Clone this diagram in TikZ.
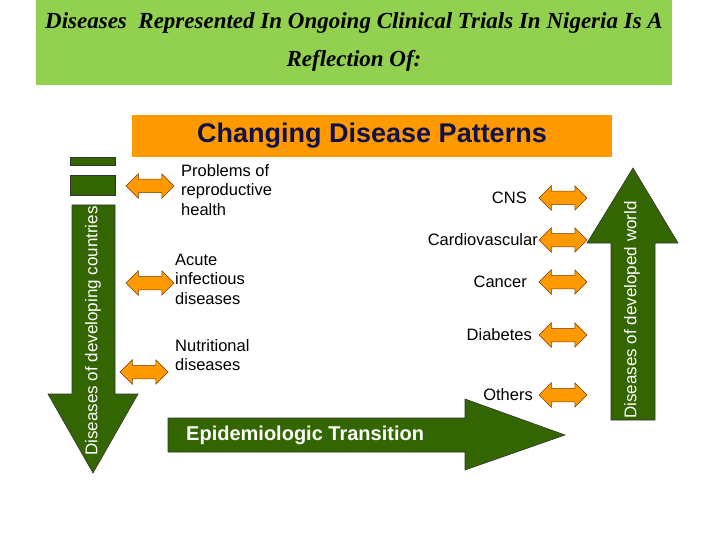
\documentclass[tikz,border=0pt]{standalone}
\usepackage{fontspec}
\setmainfont{Liberation Sans}
\newfontfamily\headfont{Liberation Serif}
\usetikzlibrary{shapes.arrows}

\definecolor{titlegreen}{HTML}{92D050}
\definecolor{bannerorange}{HTML}{FF9900}
\definecolor{arrowgreen}{HTML}{336600}
\definecolor{bannerblue}{HTML}{10104A}
\definecolor{edgebrown}{HTML}{7A3A00}

\tikzset{
  greenshape/.style={fill=arrowgreen, draw=black!80, line width=0.6pt},
  dblarrow/.style={double arrow, fill=bannerorange, draw=edgebrown, line width=0.5pt,
    inner xsep=0pt, inner ysep=6.5pt, minimum width=0pt, minimum height=48pt,
    double arrow head extend=5.5pt},
  disease/.style={font=\fontsize{16.5}{19.5}\selectfont, align=left, inner sep=0pt},
  sidetext/.style={font=\fontsize{17}{20}\selectfont, text=white, rotate=90, inner sep=0pt}
}

\begin{document}
\begin{tikzpicture}[x=1pt,y=-1pt]
\useasboundingbox (0,0) rectangle (720,540);
% title box
\fill [titlegreen] (36,0) rectangle (672,85);
\node (title) at (354,42) [align=center, font=\headfont\bfseries\itshape\fontsize{23}{38}\selectfont]
  {Diseases \ Represented In Ongoing Clinical Trials In Nigeria Is A\\Reflection Of:};
% banner
\fill [bannerorange] (132,115) rectangle (612,157);
\node (banner) at (372,136) [text=bannerblue, font=\bfseries\fontsize{27}{30}\selectfont] {Changing Disease Patterns};
% left arrow, pointing down
\draw [greenshape] (70,157) rectangle (115,165);
\draw [greenshape] (70,175) rectangle (115,195);
\draw [greenshape] (72,205) -- (115,205) -- (115,394) -- (138,394) -- (93,473)
  -- (48,394) -- (72,394) -- cycle;
\node (devtext) at (93,331) [sidetext] {Diseases of developing countries};
% right arrow, pointing up
\draw [greenshape] (611,420) -- (655,420) -- (655,243) -- (678,243) -- (633,168)
  -- (587,243) -- (611,243) -- cycle;
\node (worldtext) at (632,310) [sidetext] {Diseases of developed world};
% bottom arrow
\draw [greenshape] (168,418) -- (465,418) -- (465,399) -- (565,435) -- (465,470)
  -- (465,452) -- (168,452) -- cycle;
\node (transtext) at (186,435) [anchor=west, text=white, inner sep=0pt,
  font=\bfseries\fontsize{20}{22}\selectfont] {Epidemiologic Transition};
% double arrows, left
\node (la1) at (150,186) [dblarrow] {};
\node (la2) at (150,283) [dblarrow] {};
\node (la3) at (144,372) [dblarrow] {};
% double arrows, right
\node (ra1) at (563,198) [dblarrow] {};
\node (ra2) at (563,240) [dblarrow] {};
\node (ra3) at (563,282) [dblarrow] {};
\node (ra4) at (563,335) [dblarrow] {};
\node (ra5) at (563,395) [dblarrow] {};
% labels
\node (repro) at (181,190) [disease, anchor=west] {Problems of\\reproductive\\health};
\node (acute) at (175,279) [disease, anchor=west] {Acute\\infectious\\diseases};
\node (nutri) at (175,355) [disease, anchor=west] {Nutritional\\diseases};
\node (cns) at (527,198) [disease, anchor=east] {CNS};
\node (cardio) at (538,240) [disease, anchor=east] {Cardiovascular};
\node (cancer) at (527,282) [disease, anchor=east] {Cancer};
\node (diab) at (532,335) [disease, anchor=east] {Diabetes};
\node (others) at (533,395) [disease, anchor=east] {Others};
\end{tikzpicture}
\end{document}
